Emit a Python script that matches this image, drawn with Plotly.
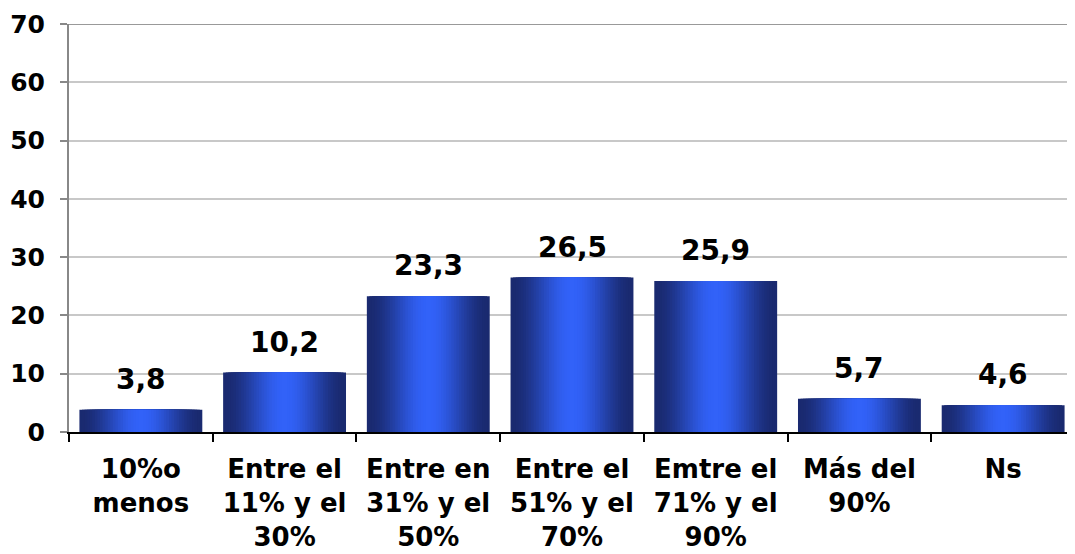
import plotly.graph_objects as go

categorias = ['10%o<br>menos', 'Entre el<br>11% y el<br>30%', 'Entre en<br>31% y el<br>50%',
              'Entre el<br>51% y el<br>70%', 'Emtre el<br>71% y el<br>90%', 'Más del<br>90%', 'Ns']
porcentajes = [3.8, 10.2, 23.3, 26.5, 25.9, 5.7, 4.6]
y_max = 70

fig = go.Figure()

# bars with a horizontal gradient: stacked overlay layers, narrower = brighter
n_capas = 24
borde = (26, 42, 112)
centro = (50, 98, 248)
ancho_total = 0.855
for k in range(n_capas):
    t = k / (n_capas - 1)
    t = t * t * (3 - 2 * t)
    color = 'rgb(%d,%d,%d)' % tuple(int(borde[i] + (centro[i] - borde[i]) * t) for i in range(3))
    ancho = ancho_total * (1 - k / n_capas)
    fig.add_trace(go.Bar(
        x=categorias, y=porcentajes, width=ancho,
        marker=dict(color=color, line=dict(width=0)),
        hoverinfo='skip', showlegend=False,
    ))

# data labels, raised a bit above the bars
for c, v in zip(categorias, porcentajes):
    fig.add_annotation(
        x=c, y=v, text=('%.1f' % v).replace('.', ','),
        showarrow=False, yanchor='bottom', yshift=12,
        font=dict(size=28, color='black', family='DejaVu Sans', weight='bold'),
    )

# darker line along the top of the plot
fig.add_shape(type='line', xref='paper', x0=0, x1=1, yref='y', y0=y_max, y1=y_max,
              line=dict(color='#999999', width=2), layer='below')

# page body has an 8px margin, so the figure is a bit smaller
fig.update_layout(
    barmode='overlay',
    width=1067, height=546,
    margin=dict(l=61, r=0, t=16, b=122, autoexpand=False),
    plot_bgcolor='white', paper_bgcolor='white',
    font=dict(family='DejaVu Sans', color='black'),
)
fig.update_xaxes(
    automargin=False, tickangle=0,
    tickson='boundaries', ticks='outside', ticklen=8, tickwidth=2, tickcolor='black',
    showline=True, linecolor='black', linewidth=2,
    tickfont=dict(size=26, family='DejaVu Sans', color='black', weight='bold'),
    ticklabelstandoff=13,
)
fig.update_yaxes(
    automargin=False,
    range=[0, y_max], dtick=10, ticks='outside', ticklen=7, tickwidth=2, tickcolor='#888888',
    showline=True, linecolor='#888888', linewidth=2,
    showgrid=True, gridcolor='#c8c8c8', gridwidth=2, zeroline=False,
    tickfont=dict(size=25, family='DejaVu Sans', color='black', weight='bold'),
    ticklabelstandoff=10,
)

fig.write_html('out.html')
